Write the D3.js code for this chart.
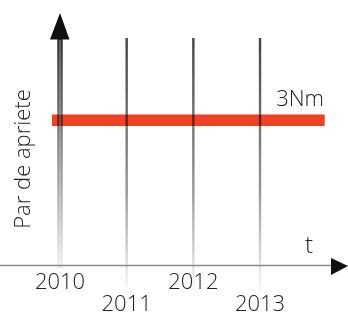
<!DOCTYPE html>
<meta charset="utf-8">
<head>
<script src="https://cdnjs.cloudflare.com/ajax/libs/d3/7.8.5/d3.min.js"></script>
<style>
body { margin:0; background:#fff; }
svg text { font-family: "Open Sans", sans-serif; font-weight: 300; fill: #222; }
</style>
</head>
<body>
<div id="chart"></div>
<script>
// data
var years = [2010, 2011, 2012, 2013];
var torque = [3, 3, 3, 3];
var torqueLabel = '3Nm';
var yTitle = 'Par de apriete';
var xTitle = 't';

var width = 348, height = 316;
var axisY = 265.5;

var svg = d3.select('#chart').append('svg')
  .attr('width', width)
  .attr('height', height);

var x = d3.scaleLinear().domain([2010, 2014]).range([60, 326.7]);
var y = d3.scaleLinear().domain([0, 4.7]).range([axisY, 38]);

var defs = svg.append('defs');
// y axis: dark top fading down, with a lighter centre stripe
var g1 = defs.append('linearGradient').attr('id', 'axisGrad')
  .attr('x1', 0).attr('y1', 0).attr('x2', 0).attr('y2', 1);
g1.append('stop').attr('offset', '0%').attr('stop-color', '#333');
g1.append('stop').attr('offset', '55%').attr('stop-color', '#999');
g1.append('stop').attr('offset', '100%').attr('stop-color', '#f0f0f0');

var g2 = defs.append('linearGradient').attr('id', 'gridGrad')
  .attr('x1', 0).attr('y1', 0).attr('x2', 0).attr('y2', 1);
g2.append('stop').attr('offset', '0%').attr('stop-color', '#444');
g2.append('stop').attr('offset', '60%').attr('stop-color', '#999');
g2.append('stop').attr('offset', '100%').attr('stop-color', '#fff');

// red torque band
svg.append('line')
  .attr('x1', x(years[0]) - 8)
  .attr('x2', x(2014) - 2)
  .attr('y1', y(d3.mean(torque)))
  .attr('y2', y(d3.mean(torque)))
  .attr('stroke', '#ef4123')
  .attr('stroke-width', 11.5);

// vertical year lines
svg.selectAll('.grid')
  .data(years.slice(1))
  .enter().append('rect')
  .attr('class', 'grid')
  .attr('x', function(d){ return x(d) - 1.2; })
  .attr('y', y.range()[1])
  .attr('width', 2.4)
  .attr('height', 295 - y.range()[1])
  .attr('fill', 'url(#gridGrad)')
  .style('mix-blend-mode', 'multiply');

// y axis bar
svg.append('rect')
  .attr('x', x(years[0]) - 2.8)
  .attr('y', 36)
  .attr('width', 5.6)
  .attr('height', 232)
  .attr('fill', 'url(#axisGrad)')
  .style('mix-blend-mode', 'multiply');
svg.append('rect')
  .attr('x', x(years[0]) - 0.8)
  .attr('y', 40)
  .attr('width', 1.6)
  .attr('height', 226)
  .attr('fill', '#fff')
  .attr('opacity', 0.25);

svg.append('path')
  .attr('d', d3.line()([[x(years[0]) - 10, 39.5], [x(years[0]), 13], [x(years[0]) + 9.5, 39.5]]) + 'Z')
  .attr('fill', '#111');

// x axis
svg.append('line')
  .attr('x1', 0).attr('x2', 333)
  .attr('y1', axisY).attr('y2', axisY)
  .attr('stroke', '#8a8a8a')
  .attr('stroke-width', 1.5);

svg.append('path')
  .attr('d', d3.line()([[331, 258], [348, 266], [331, 275]]) + 'Z')
  .attr('fill', '#111');

// year labels, alternating rows
svg.selectAll('.yr')
  .data(years)
  .enter().append('text')
  .attr('class', 'yr')
  .attr('x', function(d){ return x(d); })
  .attr('y', function(d, i){ return i % 2 ? 311 : 289; })
  .attr('text-anchor', 'middle')
  .style('font-size', '22px')
  .text(function(d){ return d; });

svg.append('text')
  .attr('x', 324).attr('y', 106)
  .attr('text-anchor', 'end')
  .style('font-size', '22px')
  .text(torqueLabel);

svg.append('text')
  .attr('x', 309).attr('y', 253)
  .attr('text-anchor', 'middle')
  .style('font-size', '24px')
  .text(xTitle);

svg.append('text')
  .attr('transform', 'translate(30,159) rotate(-90)')
  .attr('text-anchor', 'middle')
  .style('font-size', '22px')
  .text(yTitle);
</script>
</body>
